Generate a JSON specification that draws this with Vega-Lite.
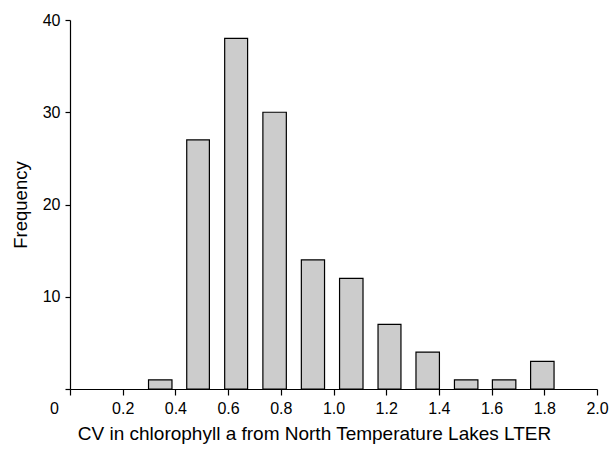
{
  "$schema": "https://vega.github.io/schema/vega-lite/v6.json",
  "autosize": "none",
  "width": 527,
  "height": 369,
  "padding": {"left": 70, "top": 20, "right": 16, "bottom": 60},
  "background": "white",
  "config": {
    "font": "Liberation Sans",
    "view": {"stroke": null},
    "axis": {"grid": false, "domainColor": "black", "tickColor": "black", "labelColor": "black", "titleColor": "black", "labelFont": "Liberation Sans", "titleFont": "Liberation Sans", "labelFontSize": 16, "titleFontSize": 18.5, "titleFontWeight": "normal", "domainWidth": 1.2, "tickWidth": 1.2}
  },
  "data": {
    "values": [
      {"start": 0.298, "end": 0.387, "count": 1},
      {"start": 0.443, "end": 0.529, "count": 27},
      {"start": 0.587, "end": 0.674, "count": 38},
      {"start": 0.732, "end": 0.821, "count": 30},
      {"start": 0.878, "end": 0.966, "count": 14},
      {"start": 1.023, "end": 1.112, "count": 12},
      {"start": 1.169, "end": 1.256, "count": 7},
      {"start": 1.313, "end": 1.402, "count": 4},
      {"start": 1.459, "end": 1.548, "count": 1},
      {"start": 1.603, "end": 1.692, "count": 1},
      {"start": 1.748, "end": 1.837, "count": 3}
    ]
  },
  "mark": {"type": "rect", "fill": "#cccccc", "stroke": "black", "strokeWidth": 1.2},
  "encoding": {
    "x": {
      "field": "start", "type": "quantitative",
      "scale": {"domain": [0, 2], "nice": false, "zero": true},
      "axis": {
        "title": "CV in chlorophyll a from North Temperature Lakes LTER",
        "titleFontSize": 19,
        "titleX": 244,
        "titleAlign": "center",
        "values": [0, 0.2, 0.4, 0.6, 0.8, 1.0, 1.2, 1.4, 1.6, 1.8, 2.0],
        "labelExpr": "datum.value == 0 ? '0' : format(datum.value, '.1f')",
        "labelOffset": {"condition": {"test": "datum.value == 0", "value": -16}, "value": 0},
        "tickSize": 6,
        "labelPadding": 5,
        "titlePadding": 8,
        "labelFlush": false,
        "labelOverlap": false
      }
    },
    "x2": {"field": "end"},
    "y": {
      "field": "count", "type": "quantitative",
      "scale": {"domain": [0, 40], "nice": false},
      "axis": {
        "title": "Frequency",
        "values": [0, 10, 20, 30, 40],
        "labelExpr": "datum.value == 0 ? '' : datum.label",
        "tickSize": 5,
        "labelPadding": 5,
        "titlePadding": 12,
        "labelFlush": false,
        "labelOverlap": false
      }
    },
    "y2": {"datum": 0}
  }
}
